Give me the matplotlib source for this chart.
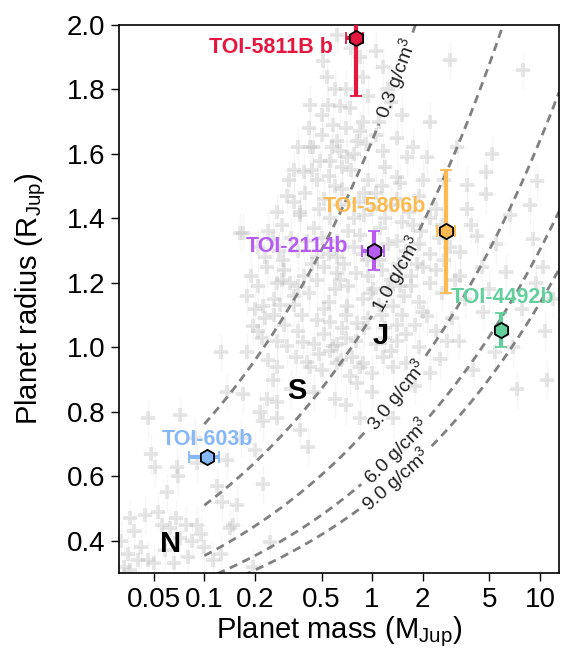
import numpy as np
import matplotlib
matplotlib.use("Agg")
import matplotlib.pyplot as plt

plt.rcParams['font.family'] = ['Liberation Sans', 'DejaVu Sans']
plt.rcParams['mathtext.fontset'] = 'custom'
plt.rcParams['mathtext.rm'] = 'Liberation Sans'
plt.rcParams['mathtext.it'] = 'Liberation Sans:italic'
plt.rcParams['mathtext.bf'] = 'Liberation Sans:bold'

# --- known planet population (grey background) ---
bg_mass = [
    0.033, 0.035, 0.036, 0.040, 0.042, 0.046, 0.050, 0.038, 0.044, 0.053,
    0.056, 0.062, 0.068, 0.072, 0.078, 0.085, 0.091, 0.095, 0.058, 0.066,
    0.113, 0.143, 0.149, 0.125, 0.032, 0.036, 0.080, 0.100,
    0.046, 0.072, 0.048, 0.051, 0.069, 0.070, 0.091, 0.137, 0.119, 0.157,
    0.128, 0.224, 0.247, 0.196, 0.416, 0.215, 0.272, 0.373, 0.224, 0.137,
    0.257, 0.170, 0.237, 0.272, 0.165, 0.060, 0.088, 0.200,
    0.208, 0.283, 0.410, 0.388, 0.562, 0.620, 0.740, 0.880, 0.810, 1.160,
    1.330, 0.850, 1.330, 0.272, 0.180, 0.125, 0.310, 0.428, 0.586, 0.850,
    0.428, 0.547, 0.740, 0.428, 0.562, 0.310, 0.373, 0.645, 0.850, 1.160,
    1.470, 0.470, 0.257, 0.296, 0.325, 0.470, 0.620, 1.470, 1.850,
    0.510, 1.160, 2.900, 7.900, 0.645, 0.880, 0.586, 0.880, 0.445, 0.620,
    0.810, 0.490, 0.710, 1.620, 2.120, 0.390, 4.800, 9.600, 3.700, 1.410,
    4.800, 3.670, 4.200, 3.340, 9.100, 6.300, 3.340, 10.40, 4.600, 10.70,
    5.400, 7.300, 2.540, 2.120, 8.700, 6.600,
    0.370, 0.164, 0.237, 0.270, 0.224, 0.196, 0.340, 0.470, 0.710, 0.810,
    1.010, 1.330, 0.645, 0.170,
    0.520, 0.660, 0.830, 1.050, 1.300, 1.900, 2.400, 0.400,
    0.290, 0.450, 0.560, 0.720, 0.900, 1.120, 1.500, 1.950, 2.600, 0.620,
    0.210, 0.360, 0.410, 0.550, 0.780, 0.930, 1.250, 1.600, 2.200, 2.900, 0.680,
    0.190, 0.300, 0.390, 0.520, 0.800, 1.150, 1.300, 1.700, 2.400, 3.100, 0.950,
    0.180, 0.260, 0.420, 0.550, 0.600, 0.880, 1.100, 1.550, 1.900, 2.600, 3.600,
    0.230, 0.300, 0.380, 0.560, 0.660, 0.950, 1.200, 1.500, 1.800, 2.400, 3.000,
    0.270, 0.450, 0.700, 1.050, 1.400, 1.900, 2.800,
    0.500, 0.650, 1.000, 1.600, 2.200,
    0.330, 0.450, 0.600, 1.000, 1.800, 0.700,
    0.340, 0.550, 0.750, 0.950, 1.200, 0.500, 0.700, 1.050, 1.400, 0.600,
    0.950, 1.300, 0.750, 1.050, 2.200, 3.200, 2.700, 3.900, 5.500, 4.500,
    5.000, 3.300, 7.800, 9.500, 12.00, 6.900, 4.000, 11.00, 5.200,
]
bg_radius = [
    0.32, 0.36, 0.31, 0.34, 0.38, 0.34, 0.33, 0.43, 0.48, 0.49,
    0.45, 0.44, 0.47, 0.41, 0.45, 0.40, 0.45, 0.42, 0.37, 0.33,
    0.34, 0.44, 0.45, 0.36, 0.40, 0.47, 0.35, 0.38,
    0.78, 0.79, 0.67, 0.63, 0.63, 0.60, 0.64, 0.65, 0.57, 0.51,
    0.52, 0.575, 0.395, 0.32, 0.69, 0.80, 0.83, 0.745, 0.77, 0.86,
    0.90, 0.855, 0.84, 0.78, 0.72, 0.55, 0.72, 0.68,
    1.05, 1.13, 0.955, 1.015, 0.99, 0.95, 0.91, 0.95, 0.89, 0.97,
    0.94, 0.78, 0.78, 0.94, 0.984, 0.984, 1.003, 0.94, 1.003, 0.94,
    1.753, 1.753, 1.744, 1.62, 1.577, 1.47, 1.42, 1.61, 1.67, 1.61,
    1.51, 1.52, 1.335, 1.27, 1.20, 1.28, 1.23, 1.19, 1.26,
    1.887, 1.87, 1.89, 1.86, 1.75, 1.84, 1.69, 1.70, 1.62, 1.64,
    1.64, 1.577, 1.59, 1.59, 1.59, 1.545, 1.545, 1.515, 1.505, 1.527,
    1.475, 1.43, 1.345, 1.295, 1.335, 1.233, 1.22, 1.25, 1.11, 1.05,
    0.985, 0.87, 0.963, 1.096, 1.44, 1.41,
    1.41, 1.356, 1.25, 1.20, 1.127, 1.065, 1.16, 1.086, 1.127, 1.077,
    1.18, 1.127, 1.21, 1.356,
    1.46, 1.49, 1.45, 1.48, 1.44, 1.47, 1.43, 1.48,
    1.38, 1.37, 1.40, 1.36, 1.41, 1.37, 1.39, 1.36, 1.38, 1.33,
    1.31, 1.30, 1.33, 1.29, 1.31, 1.27, 1.32, 1.30, 1.29, 1.31, 1.26,
    1.22, 1.24, 1.22, 1.25, 1.23, 1.24, 1.21, 1.22, 1.24, 1.21, 1.22,
    1.16, 1.15, 1.17, 1.14, 1.18, 1.15, 1.13, 1.16, 1.14, 1.17, 1.15,
    1.09, 1.07, 1.10, 1.08, 1.06, 1.09, 1.06, 1.10, 1.07, 1.05, 1.09,
    1.02, 1.01, 1.03, 1.01, 1.02, 1.00, 1.02,
    0.93, 0.96, 0.92, 0.95, 0.92,
    0.87, 0.86, 0.84, 0.86, 0.88, 0.82,
    1.55, 1.53, 1.55, 1.52, 1.56, 1.66, 1.68, 1.66, 1.65, 1.80,
    1.78, 1.76, 1.93, 1.92, 1.70, 1.62, 1.52, 1.38, 1.32, 1.25,
    1.18, 1.02, 1.12, 1.20, 1.15, 1.00, 0.93, 0.90, 1.60,
]
# extra planets in the crowded hot-Jupiter core
bg_mass_core = [
    0.36, 0.42, 0.50, 0.58, 0.66, 0.78, 0.92, 1.10, 0.70, 0.54, 0.85, 0.62, 1.25, 1.50, 1.75,
    0.32, 0.44, 0.60, 0.90, 1.15, 1.40, 1.65, 2.00,
    0.27, 0.34, 0.48, 0.64, 0.78, 1.00, 1.20, 1.75, 2.20,
    0.24, 0.33, 0.50, 0.85, 1.40, 1.90, 2.50,
    0.23, 0.28, 0.44, 0.62, 0.88, 1.10, 1.45, 2.00, 2.70,
    0.21, 0.29, 0.36, 0.47, 0.72, 0.98, 1.25, 1.70, 2.20,
    0.20, 0.26, 0.34, 0.52, 0.70, 0.90, 1.15, 1.40, 2.00,
    0.22, 0.36, 0.52, 0.62, 0.80, 1.20, 1.60,
    0.24, 0.35, 0.48, 0.76, 1.30,
]
bg_radius_core = [
    1.62, 1.68, 1.72, 1.62, 1.56, 1.60, 1.63, 1.70, 1.80, 1.84, 1.90, 1.97, 1.80, 1.72, 1.62,
    1.52, 1.55, 1.50, 1.48, 1.50, 1.46, 1.42, 1.52,
    1.42, 1.45, 1.43, 1.44, 1.40, 1.43, 1.40, 1.38, 1.40,
    1.36, 1.34, 1.34, 1.35, 1.33, 1.32, 1.34,
    1.28, 1.30, 1.26, 1.28, 1.29, 1.27, 1.26, 1.25, 1.27,
    1.19, 1.21, 1.19, 1.21, 1.19, 1.17, 1.18, 1.19, 1.20,
    1.12, 1.10, 1.13, 1.12, 1.10, 1.06, 1.10, 1.07, 1.11,
    1.03, 1.05, 1.04, 1.01, 1.02, 1.03, 1.04,
    0.96, 0.97, 0.98, 0.97, 0.99,
]
bg_mass_frac_err = 0.12   # typical relative mass uncertainty
bg_radius_err = 0.06      # typical radius uncertainty (R_Jup)

# --- highlighted planets ---
names = ["TOI-5811B b", "TOI-5806b", "TOI-2114b", "TOI-4492b", "TOI-603b"]
mass = [0.80, 2.75, 1.02, 5.90, 0.104]
mass_lo = [0.10, 0.33, 0.15, 0.40, 0.023]
mass_hi = [0.08, 0.37, 0.15, 0.40, 0.019]
radius = [1.96, 1.36, 1.30, 1.053, 0.66]
radius_lo = [0.18, 0.19, 0.06, 0.053, 0.012]
radius_hi = [0.20, 0.19, 0.06, 0.053, 0.012]
colors = ['#E3173F', '#FDBA50', '#B75CF2', '#62CF9C', '#86B8F8']
label_mass = [0.25, 1.03, 0.358, 5.98, 0.105]
label_radius = [1.929, 1.438, 1.314, 1.155, 0.715]

# solar system letters
ss_letters = ['N', 'S', 'J']
ss_mass = [0.0628, 0.358, 1.12]
ss_radius = [0.389, 0.864, 1.034]

# iso-density curves
densities = [0.3, 1.0, 3.0, 6.0, 9.0]   # g/cm^3
rho_jup = 1.326
iso_label_mass = 1.4

fig = plt.figure(figsize=(5.76, 6.54), dpi=100)
ax = fig.add_axes([0.2066, 0.1239, 0.7639, 0.8379])
ax.set_xscale('log')
ax.set_xlim(0.031, 13.0)
ax.set_ylim(0.30, 2.0)

# background population: faint error bars, then soft plus markers
bgm = np.array(bg_mass + bg_mass_core)
bgr = np.array(bg_radius + bg_radius_core)
ax.errorbar(bgm, bgr, xerr=bgm * bg_mass_frac_err, yerr=bg_radius_err,
            fmt='none', ecolor='#c8c8c8', elinewidth=1, alpha=0.15, zorder=1)
ax.plot(bgm, bgr, 'P', ms=10.5, color='#b5b5b5', mew=0, alpha=0.3, zorder=1)

# iso-density lines with inline labels
def iso_radius(m, rho):
    return (m * rho_jup / rho) ** (1.0 / 3.0)

mgrid = np.logspace(-1, np.log10(13.0), 600)
for rho in densities:
    rr = iso_radius(mgrid, rho)
    c = ax.transData.transform((iso_label_mass, iso_radius(iso_label_mass, rho)))
    pts = ax.transData.transform(np.column_stack([mgrid, rr]))
    dist = np.hypot(pts[:, 0] - c[0], pts[:, 1] - c[1])
    rr_plot = np.where(dist < 48, np.nan, rr)
    ax.plot(mgrid, rr_plot, color='#808080', lw=2, dashes=(3, 2), zorder=2)
    p1 = ax.transData.transform((iso_label_mass * 0.97, iso_radius(iso_label_mass * 0.97, rho)))
    p2 = ax.transData.transform((iso_label_mass * 1.03, iso_radius(iso_label_mass * 1.03, rho)))
    ang = np.degrees(np.arctan2(p2[1] - p1[1], p2[0] - p1[0]))
    ax.text(iso_label_mass, iso_radius(iso_label_mass, rho), f'{rho:.1f} g/cm$^3$',
            rotation=ang, rotation_mode='anchor', ha='center', va='center',
            fontsize=14, color='#222222', zorder=3)

# highlighted planets
for i in range(len(names)):
    ax.errorbar(mass[i], radius[i],
                xerr=[[mass_lo[i]], [mass_hi[i]]],
                yerr=[[radius_lo[i]], [radius_hi[i]]],
                fmt='h', ms=11, mfc=colors[i], mec='black', mew=1.3,
                ecolor=colors[i], elinewidth=3, capsize=4, capthick=2,
                zorder=5)
    ax.text(label_mass[i], label_radius[i], names[i], color=colors[i],
            fontsize=15.5, fontweight='bold', ha='center', va='center', zorder=6)

for lt, m, r in zip(ss_letters, ss_mass, ss_radius):
    ax.text(m, r, lt, fontsize=21, fontweight='bold', ha='center', va='center',
            color='black', zorder=6)

ax.set_xticks([0.05, 0.1, 0.2, 0.5, 1, 2, 5, 10])
ax.set_xticklabels(['0.05', '0.1', '0.2', '0.5', '1', '2', '5', '10'])
ax.minorticks_off()
ax.set_yticks([0.4, 0.6, 0.8, 1.0, 1.2, 1.4, 1.6, 1.8, 2.0])
ax.set_yticklabels(['0.4', '0.6', '0.8', '1.0', '1.2', '1.4', '1.6', '1.8', '2.0'])
ax.tick_params(direction='out', length=6, width=1, labelsize=20, pad=4)
for sp in ax.spines.values():
    sp.set_linewidth(1.2)

ax.set_xlabel(r'Planet mass (M$_{\rm Jup}$)', fontsize=21, labelpad=1)
ax.set_ylabel(r'Planet radius (R$_{\rm Jup}$)', fontsize=21, labelpad=13)

fig.savefig('out.png', dpi=100)
